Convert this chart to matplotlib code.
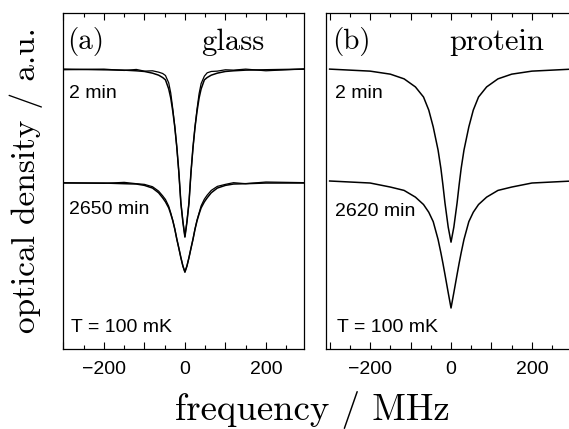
import matplotlib
matplotlib.use("Agg")
import matplotlib.pyplot as plt
from matplotlib.ticker import MultipleLocator, FuncFormatter

# frequency grids (MHz) and optical density (a.u.)
freq_a = [-300, -200, -150, -120, -100, -80, -65, -55, -48, -40, -35, -30, -25, -20, -15, -10, -5, 0,
          5, 10, 15, 20, 25, 30, 35, 40, 48, 55, 65, 80, 100, 120, 150, 200, 300]
glass_2min_fit = [8.33, 8.31, 8.30, 8.28, 8.26, 8.21, 8.15, 8.08, 8.01, 7.74, 7.47, 7.08, 6.61, 6.01, 5.27, 4.35, 3.78, 3.33,
                  3.78, 4.35, 5.27, 6.01, 6.61, 7.08, 7.47, 7.74, 8.01, 8.08, 8.15, 8.21, 8.26, 8.28, 8.30, 8.31, 8.33]
glass_2min_data = [8.31, 8.33, 8.29, 8.32, 8.27, 8.28, 8.24, 8.20, 8.14, 7.92, 7.62, 7.15, 6.62, 6.00, 5.25, 4.35, 3.80, 3.35,
                   3.80, 4.35, 5.25, 6.00, 6.62, 7.15, 7.60, 7.90, 8.12, 8.22, 8.26, 8.27, 8.31, 8.30, 8.33, 8.28, 8.34]
glass_2650_fit = [4.94, 4.94, 4.92, 4.91, 4.87, 4.79, 4.65, 4.50, 4.38, 4.20, 4.02, 3.82, 3.57, 3.27, 3.00, 2.72, 2.47, 2.29,
                  2.47, 2.72, 3.00, 3.27, 3.57, 3.82, 4.02, 4.20, 4.38, 4.50, 4.65, 4.79, 4.87, 4.91, 4.92, 4.94, 4.94]
glass_2650_data = [4.95, 4.93, 4.96, 4.92, 4.90, 4.83, 4.70, 4.56, 4.45, 4.25, 4.05, 3.83, 3.57, 3.27, 3.00, 2.72, 2.47, 2.29,
                   2.47, 2.72, 3.00, 3.27, 3.58, 3.84, 4.05, 4.26, 4.46, 4.58, 4.72, 4.84, 4.90, 4.95, 4.92, 4.97, 4.95]

freq_b = [-300, -250, -200, -150, -116, -88, -68, -55, -44, -32, -25, -20, -15, -7, 0,
          7, 15, 20, 25, 32, 44, 55, 68, 88, 116, 150, 200, 250, 300]
protein_2min = [8.33, 8.30, 8.27, 8.18, 8.04, 7.80, 7.50, 7.11, 6.61, 5.92, 5.37, 4.88, 4.35, 3.63, 3.18,
                3.63, 4.35, 4.88, 5.37, 5.92, 6.61, 7.11, 7.50, 7.80, 8.04, 8.18, 8.27, 8.30, 8.33]
protein_2620 = [5.00, 4.97, 4.94, 4.82, 4.72, 4.52, 4.30, 4.07, 3.79, 3.26, 2.86, 2.55, 2.22, 1.68, 1.22,
                1.68, 2.22, 2.55, 2.86, 3.26, 3.79, 4.07, 4.30, 4.52, 4.72, 4.82, 4.94, 4.97, 5.00]

W, H = 569, 429
fig = plt.figure(figsize=(W / 100, H / 100), dpi=100)

def px(x, y):
    return x / W, 1 - y / H

sans = ['Liberation Sans Narrow', 'Liberation Sans', 'DejaVu Sans']
serif = ['cmr10', 'DejaVu Serif']

def tick_label(v, pos):
    if abs(v) < 1e-6:
        return '0'
    if abs(abs(v) - 200) < 1e-6:
        return ('\u2212' if v < 0 else '') + '200'
    return ''

def setup(ax, xlim):
    ax.set_xlim(*xlim)
    ax.set_ylim(0, 10)
    ax.set_yticks([])
    ax.xaxis.set_major_locator(MultipleLocator(100))
    ax.xaxis.set_minor_locator(MultipleLocator(50))
    ax.xaxis.set_major_formatter(FuncFormatter(tick_label))
    ax.tick_params(axis='x', which='both', direction='in', top=True, bottom=True, width=0.8,
                   labelsize=14, pad=9)
    ax.tick_params(axis='x', which='major', length=5)
    ax.tick_params(axis='x', which='minor', length=3)
    for lab in ax.get_xticklabels():
        lab.set_family(sans)
    for s in ax.spines.values():
        s.set_linewidth(0.9)

# panel (a): glass
ax1 = fig.add_axes([63 / W, (H - 349) / H, 241 / W, 336 / H])
setup(ax1, (-301, 294))
ax1.plot(freq_a, glass_2min_data, color='k', lw=0.9)
ax1.plot(freq_a, glass_2min_fit, color='k', lw=1.1)
ax1.plot(freq_a, glass_2650_data, color='k', lw=0.9)
ax1.plot(freq_a, glass_2650_fit, color='k', lw=1.1)

# panel (b): protein
ax2 = fig.add_axes([326 / W, (H - 349) / H, 246 / W, 336 / H])
setup(ax2, (-309, 299))
ax2.plot(freq_b, protein_2min, color='k', lw=1.1)
ax2.plot(freq_b, protein_2620, color='k', lw=1.1)

# panel labels
fig.text(*px(67, 42), '(a)', family=serif, fontsize=21, va='center', ha='left')
fig.text(*px(201, 42), 'glass', family=serif, fontsize=22, va='center', ha='left')
fig.text(*px(332, 42), '(b)', family=serif, fontsize=21, va='center', ha='left')
fig.text(*px(449, 42), 'protein', family=serif, fontsize=22, va='center', ha='left')

fig.text(*px(69, 93), '2 min', family=sans, fontsize=14, va='center', ha='left')
fig.text(*px(69, 209), '2650 min', family=sans, fontsize=14, va='center', ha='left')
fig.text(*px(71, 328), 'T = 100 mK', family=sans, fontsize=14, va='center', ha='left')
fig.text(*px(335, 93), '2 min', family=sans, fontsize=14, va='center', ha='left')
fig.text(*px(335, 212), '2620 min', family=sans, fontsize=14, va='center', ha='left')
fig.text(*px(337, 327), 'T = 100 mK', family=sans, fontsize=14, va='center', ha='left')

# axis labels
fig.text(*px(312, 420), 'frequency / MHz', family=serif, fontsize=26.5, va='baseline', ha='center')
fig.text(*px(26, 180), 'optical density / a.u.', family=serif, fontsize=24, va='center', ha='center',
         rotation=90)

fig.savefig('out.png', dpi=100)
